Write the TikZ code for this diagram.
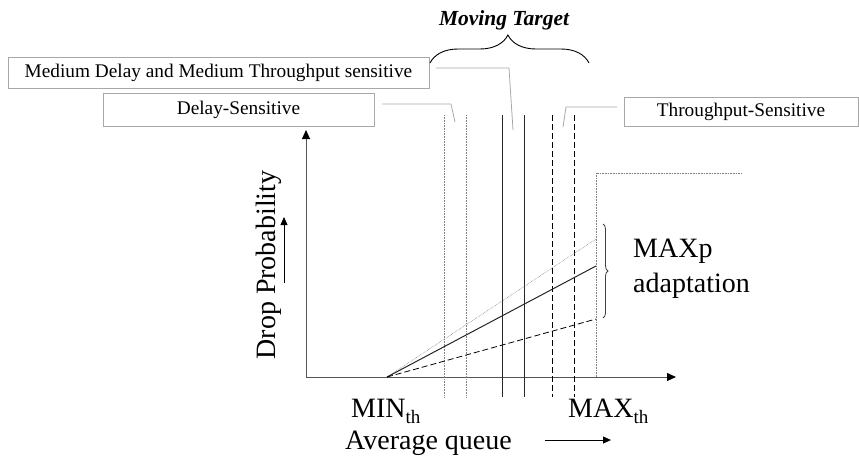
\documentclass[tikz,border=0pt]{standalone}
\usepackage{fontspec}
\setmainfont{Liberation Serif}
\usetikzlibrary{arrows.meta,decorations.pathreplacing}
\definecolor{boxgray}{HTML}{A8A8A8}
\definecolor{axisgray}{HTML}{555555}
\definecolor{dotgray}{HTML}{808080}
\begin{document}
\begin{tikzpicture}[x=1pt,y=-1pt,
  box/.style={draw=boxgray, line width=0.8pt, inner sep=0pt, font=\fontsize{19.3}{22}\selectfont},
  leader/.style={draw=boxgray, line width=0.8pt},
  axisline/.style={draw=axisgray, line width=1pt, -{Triangle[length=9pt,width=8pt,color=black]}},
  bigtext/.style={font=\fontsize{28}{32}\selectfont, inner sep=0pt},
  dotline/.style={draw=dotgray, line width=0.6pt, densely dotted},
  solidline/.style={draw=black!85, line width=1pt},
  dashline/.style={draw=black, line width=0.8pt, dash pattern=on 6pt off 3pt},
  smallarrow/.style={draw=black, line width=0.8pt, -{Triangle[length=8pt,width=7pt]}}
]
\useasboundingbox (0,0) rectangle (859,456);

% boxes
\node[box, minimum width=421pt, minimum height=31pt] (med) at (218.5,72.5) {Medium Delay and Medium Throughput sensitive};
\node[box, minimum width=271pt, minimum height=33pt] (del) at (238.5,109.5) {Delay-Sensitive};
\node[box, minimum width=234pt, minimum height=29pt] (thr) at (741,111.5) {Throughput-Sensitive};

% title and brace
\node[font=\fontsize{21.5}{24}\selectfont\bfseries\itshape, inner sep=0pt, anchor=base] (mt) at (504,25) {Moving Target};
\coordinate (brL) at (430,63);
\coordinate (brR) at (589,63);
\draw[line width=0.9pt, decorate, decoration={brace, amplitude=28pt, aspect=0.49}] (brL) -- (brR);

% leaders
\coordinate (medA) at (436,68);
\coordinate (medB) at (509,68);
\coordinate (medC) at (513,130);
\draw[leader] (medA) -- (medB) -- (medC);
\coordinate (delA) at (382,104);
\coordinate (delB) at (451,104);
\coordinate (delC) at (455,122);
\draw[leader] (delA) -- (delB) -- (delC);
\coordinate (thrA) at (617,107);
\coordinate (thrB) at (566,107);
\coordinate (thrC) at (563,127);
\draw[leader] (thrA) -- (thrB) -- (thrC);

% axes
\coordinate (O) at (306,377);
\coordinate (xend) at (676,377);
\coordinate (yend) at (306,130);
\draw[axisline] (O) -- (xend);
\draw[axisline] (O) -- (yend);

% vertical lines
\foreach \n/\x/\s in {d1/444/dotline, d2/466/dotline, s1/502/solidline, s2/524/solidline, h1/552/dashline, h2/574/dashline}{
  \coordinate (\n top) at (\x,115);
  \coordinate (\n bot) at (\x,397);
  \draw[\s] (\n top) -- (\n bot);
}

% MAX line
\coordinate (maxbot) at (596,377);
\coordinate (maxtop) at (596,173);
\coordinate (maxend) at (741,173);
\draw[dotline] (maxbot) -- (maxtop) -- (maxend);

% adaptation lines
\coordinate (minpt) at (387,377);
\coordinate (pHigh) at (596,239);
\coordinate (pMid) at (596,266);
\coordinate (pLow) at (596,319);
\draw[dotline] (minpt) -- (pHigh);
\draw[solidline] (minpt) -- (pMid);
\draw[dashline] (minpt) -- (pLow);

% right brace
\coordinate (rbT) at (603,224);
\coordinate (rbB) at (603,318);
\draw[draw=black!75, line width=0.8pt, decorate, decoration={brace, amplitude=5pt}] (rbT) -- (rbB);

\node[bigtext, anchor=base west] (maxp) at (633,257) {MAXp};
\node[bigtext, anchor=base west] (adapt) at (633,292) {adaptation};

% y label
\node[bigtext, rotate=90, anchor=base] (ylbl) at (275,265) {Drop Probability};
\coordinate (yaA) at (284,283);
\coordinate (yaB) at (284,217);
\draw[smallarrow] (yaA) -- (yaB);

% x labels
\node[bigtext, anchor=base west] (minlbl) at (351,417) {MIN\raisebox{-6pt}{\fontsize{19}{19}\selectfont th}};
\node[bigtext, anchor=base west] (maxlbl) at (568,417) {MAX\raisebox{-6pt}{\fontsize{19}{19}\selectfont th}};
\node[bigtext, anchor=base west] (avg) at (345,449) {Average queue};
\coordinate (xaA) at (545,440);
\coordinate (xaB) at (611,440);
\draw[smallarrow] (xaA) -- (xaB);
\end{tikzpicture}
\end{document}
